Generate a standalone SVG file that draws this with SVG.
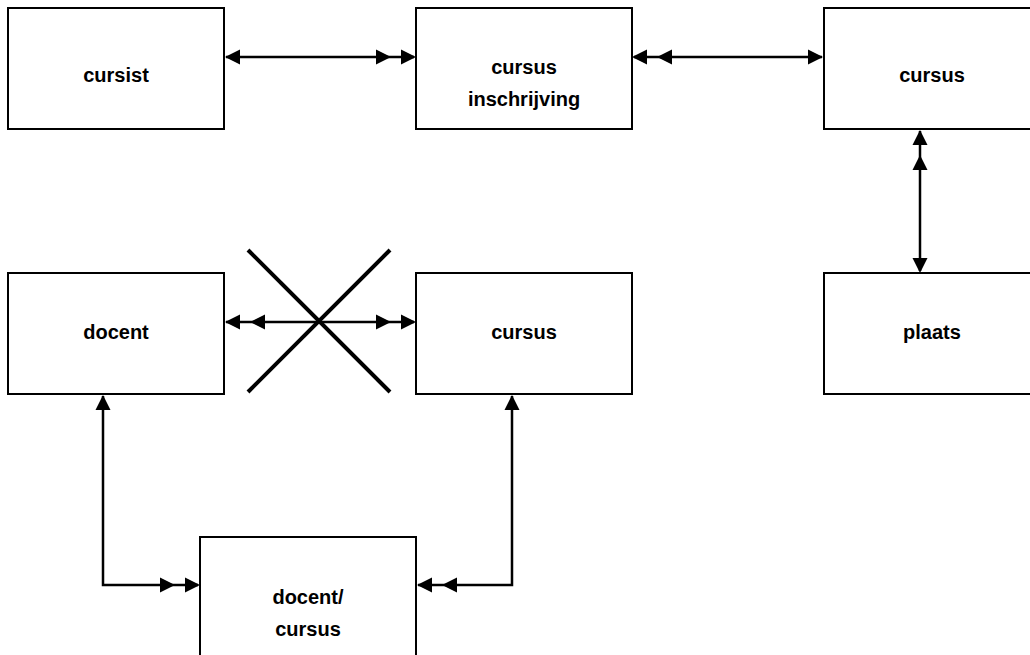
<svg xmlns="http://www.w3.org/2000/svg" width="1030" height="655" viewBox="0 0 1030 655">
  <defs>
    <style>
      .box { fill: #ffffff; stroke: #000000; stroke-width: 2; }
      .lbl { font-family: "Liberation Sans", Arial, sans-serif; font-weight: bold; font-size: 20px; fill: #000000; text-anchor: middle; }
      .wire { fill: none; stroke: #000000; stroke-width: 2.5; }
      .cross { stroke: #000000; stroke-width: 4; }
      .head { fill: #000000; }
    </style>
    <!-- single filled arrowhead, tip at origin pointing +x -->
    <path id="tip" d="M0,0 L-15,-7.5 L-15,7.5 Z"/>
  </defs>

  <!-- entities -->
  <g id="cursist">
    <rect class="box" x="8" y="8" width="216" height="121"/>
    <text class="lbl" x="116" y="82">cursist</text>
  </g>
  <g id="cursusinschrijving">
    <rect class="box" x="416" y="8" width="216" height="121"/>
    <text class="lbl" x="524" y="74">cursus</text>
    <text class="lbl" x="524" y="106">inschrijving</text>
  </g>
  <g id="cursus-top">
    <rect class="box" x="824" y="8" width="216" height="121"/>
    <text class="lbl" x="932" y="82">cursus</text>
  </g>
  <g id="plaats">
    <rect class="box" x="824" y="273" width="216" height="121"/>
    <text class="lbl" x="932" y="339">plaats</text>
  </g>
  <g id="docent">
    <rect class="box" x="8" y="273" width="216" height="121"/>
    <text class="lbl" x="116" y="339">docent</text>
  </g>
  <g id="cursus-mid">
    <rect class="box" x="416" y="273" width="216" height="121"/>
    <text class="lbl" x="524" y="339">cursus</text>
  </g>
  <g id="docentcursus">
    <rect class="box" x="200" y="537" width="216" height="130"/>
    <text class="lbl" x="308" y="604">docent/</text>
    <text class="lbl" x="308" y="636">cursus</text>
  </g>

  <!-- relationships -->
  <g id="connectors">
    <!-- cursist : cursus inschrijving -->
    <line class="wire" x1="226" y1="57" x2="414" y2="57"/>
    <use href="#tip" class="head" transform="translate(225,57) rotate(180)"/>
    <use href="#tip" class="head" transform="translate(416,57)"/>
    <use href="#tip" class="head" transform="translate(391,57)"/>

    <!-- cursus inschrijving : cursus -->
    <line class="wire" x1="634" y1="57" x2="822" y2="57"/>
    <use href="#tip" class="head" transform="translate(632,57) rotate(180)"/>
    <use href="#tip" class="head" transform="translate(657,57) rotate(180)"/>
    <use href="#tip" class="head" transform="translate(823,57)"/>

    <!-- cursus : plaats -->
    <line class="wire" x1="920" y1="131" x2="920" y2="271"/>
    <use href="#tip" class="head" transform="translate(920,130) rotate(-90)"/>
    <use href="#tip" class="head" transform="translate(920,155) rotate(-90)"/>
    <use href="#tip" class="head" transform="translate(920,273) rotate(90)"/>

    <!-- docent : cursus (rejected) -->
    <line class="wire" x1="226" y1="322" x2="414" y2="322"/>
    <use href="#tip" class="head" transform="translate(225,322) rotate(180)"/>
    <use href="#tip" class="head" transform="translate(250,322) rotate(180)"/>
    <use href="#tip" class="head" transform="translate(391,322)"/>
    <use href="#tip" class="head" transform="translate(416,322)"/>
    <line class="cross" x1="248" y1="250" x2="390" y2="392"/>
    <line class="cross" x1="390" y1="250" x2="248" y2="392"/>

    <!-- docent : docent/cursus -->
    <polyline class="wire" points="103,396 103,585 198,585"/>
    <use href="#tip" class="head" transform="translate(103,395) rotate(-90)"/>
    <use href="#tip" class="head" transform="translate(175,585)"/>
    <use href="#tip" class="head" transform="translate(200,585)"/>

    <!-- cursus : docent/cursus -->
    <polyline class="wire" points="512,396 512,585 418,585"/>
    <use href="#tip" class="head" transform="translate(512,395) rotate(-90)"/>
    <use href="#tip" class="head" transform="translate(417,585) rotate(180)"/>
    <use href="#tip" class="head" transform="translate(442,585) rotate(180)"/>
  </g>
</svg>
